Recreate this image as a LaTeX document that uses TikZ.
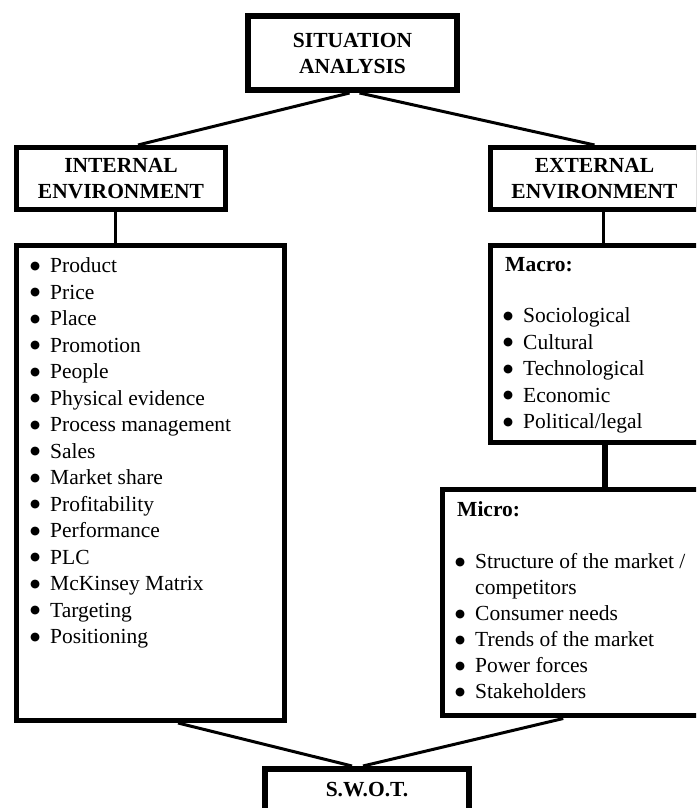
\documentclass[tikz,border=0pt]{standalone}
\usepackage{fontspec}
\setmainfont{Liberation Serif}
\newfontfamily\bulletfont{DejaVu Sans}
\usetikzlibrary{positioning}
\newcommand{\bulletitem}[1]{\llap{\raisebox{3.8pt}{\bulletfont\fontsize{11.5}{11.5}\selectfont ●}\hspace{10pt}}#1}

\begin{document}
\begin{tikzpicture}[x=1pt, y=1pt,
    headbox/.style={draw=black, line width=5pt, align=center, inner sep=0pt, font=\fontsize{21.5}{26}\selectfont\bfseries},
    listbox/.style={draw=black, line width=5pt, inner sep=0pt},
    connector/.style={draw=black, line width=3pt},
    entry/.style={anchor=base west, inner sep=0pt, font=\fontsize{21.5}{26.5}\selectfont}]
    \useasboundingbox (0,0) rectangle (696,808);
    \clip (0,0) rectangle (696,808);
    % headings
    \node[headbox, line width=6pt, minimum width=209pt, minimum height=74pt] (situation) at (352.5,755) {SITUATION\\ANALYSIS};
    \node[headbox, minimum width=209pt, minimum height=62pt] (internal) at (121,629.5) {INTERNAL\\ENVIRONMENT};
    \node[headbox, minimum width=208pt, minimum height=62pt] (external) at (594.5,629.5) {EXTERNAL\\ENVIRONMENT};
    % list boxes
    \node[listbox, minimum width=268pt, minimum height=475pt] (internallist) at (150.5,325) {};
    \node[listbox, minimum width=220pt, minimum height=197.5pt] (macro) at (600,463.75) {};
    \node[listbox, minimum width=267.5pt, minimum height=226.5pt] (micro) at (576.25,205.25) {};
    \node[headbox, line width=6pt, anchor=north, minimum width=204pt, text height=28pt, text depth=70pt] (swot) at (367,42) {S.W.O.T.};
    % connectors
    \draw[connector] ([xshift=-3pt]situation.south) -- ([xshift=17pt]internal.north);
    \draw[connector] ([xshift=7pt]situation.south) -- (external.north);
    \draw[connector] ([xshift=-6pt]internal.south) -- ([xshift=-6pt]internal.south |- internallist.north);
    \draw[connector] ([xshift=9pt]external.south) -- ([xshift=9pt]external.south |- macro.north);
    \draw[connector, line width=6pt] ([xshift=4.5pt]macro.south) -- ([xshift=4.5pt]macro.south |- micro.north);
    \draw[connector] ([xshift=27.5pt]internallist.south) -- ([xshift=-15pt]swot.north);
    \draw[connector] ([xshift=-13pt]micro.south) -- ([xshift=-4pt]swot.north);
    % internal environment
    \foreach \entry [count=\i from 0] in {Product, Price, Place, Promotion, People, Physical evidence, Process management, Sales, Market share, Profitability, Performance, PLC, McKinsey Matrix, Targeting, Positioning}
        \node[entry] (int\i) at (50,535-26.5*\i) {\bulletitem{\entry}};
    % macro
    \node[entry, font=\fontsize{21.5}{26.5}\selectfont\bfseries] (macrohead) at (505,536) {Macro:};
    \foreach \entry [count=\i from 0] in {Sociological, Cultural, Technological, Economic, Political/legal}
        \node[entry] (mac\i) at (523,485-26.5*\i) {\bulletitem{\entry}};
    % micro
    \node[entry, font=\fontsize{21.5}{26.5}\selectfont\bfseries] (microhead) at (457,291) {Micro:};
    \node[entry] (mic0) at (475,239) {\bulletitem{Structure of the market /}};
    \node[entry] (mic0b) at (475,213) {competitors};
    \foreach \entry [count=\i from 1] in {Consumer needs, Trends of the market, Power forces, Stakeholders}
        \node[entry] (mic\i) at (475,213-26*\i) {\bulletitem{\entry}};
\end{tikzpicture}
\end{document}
